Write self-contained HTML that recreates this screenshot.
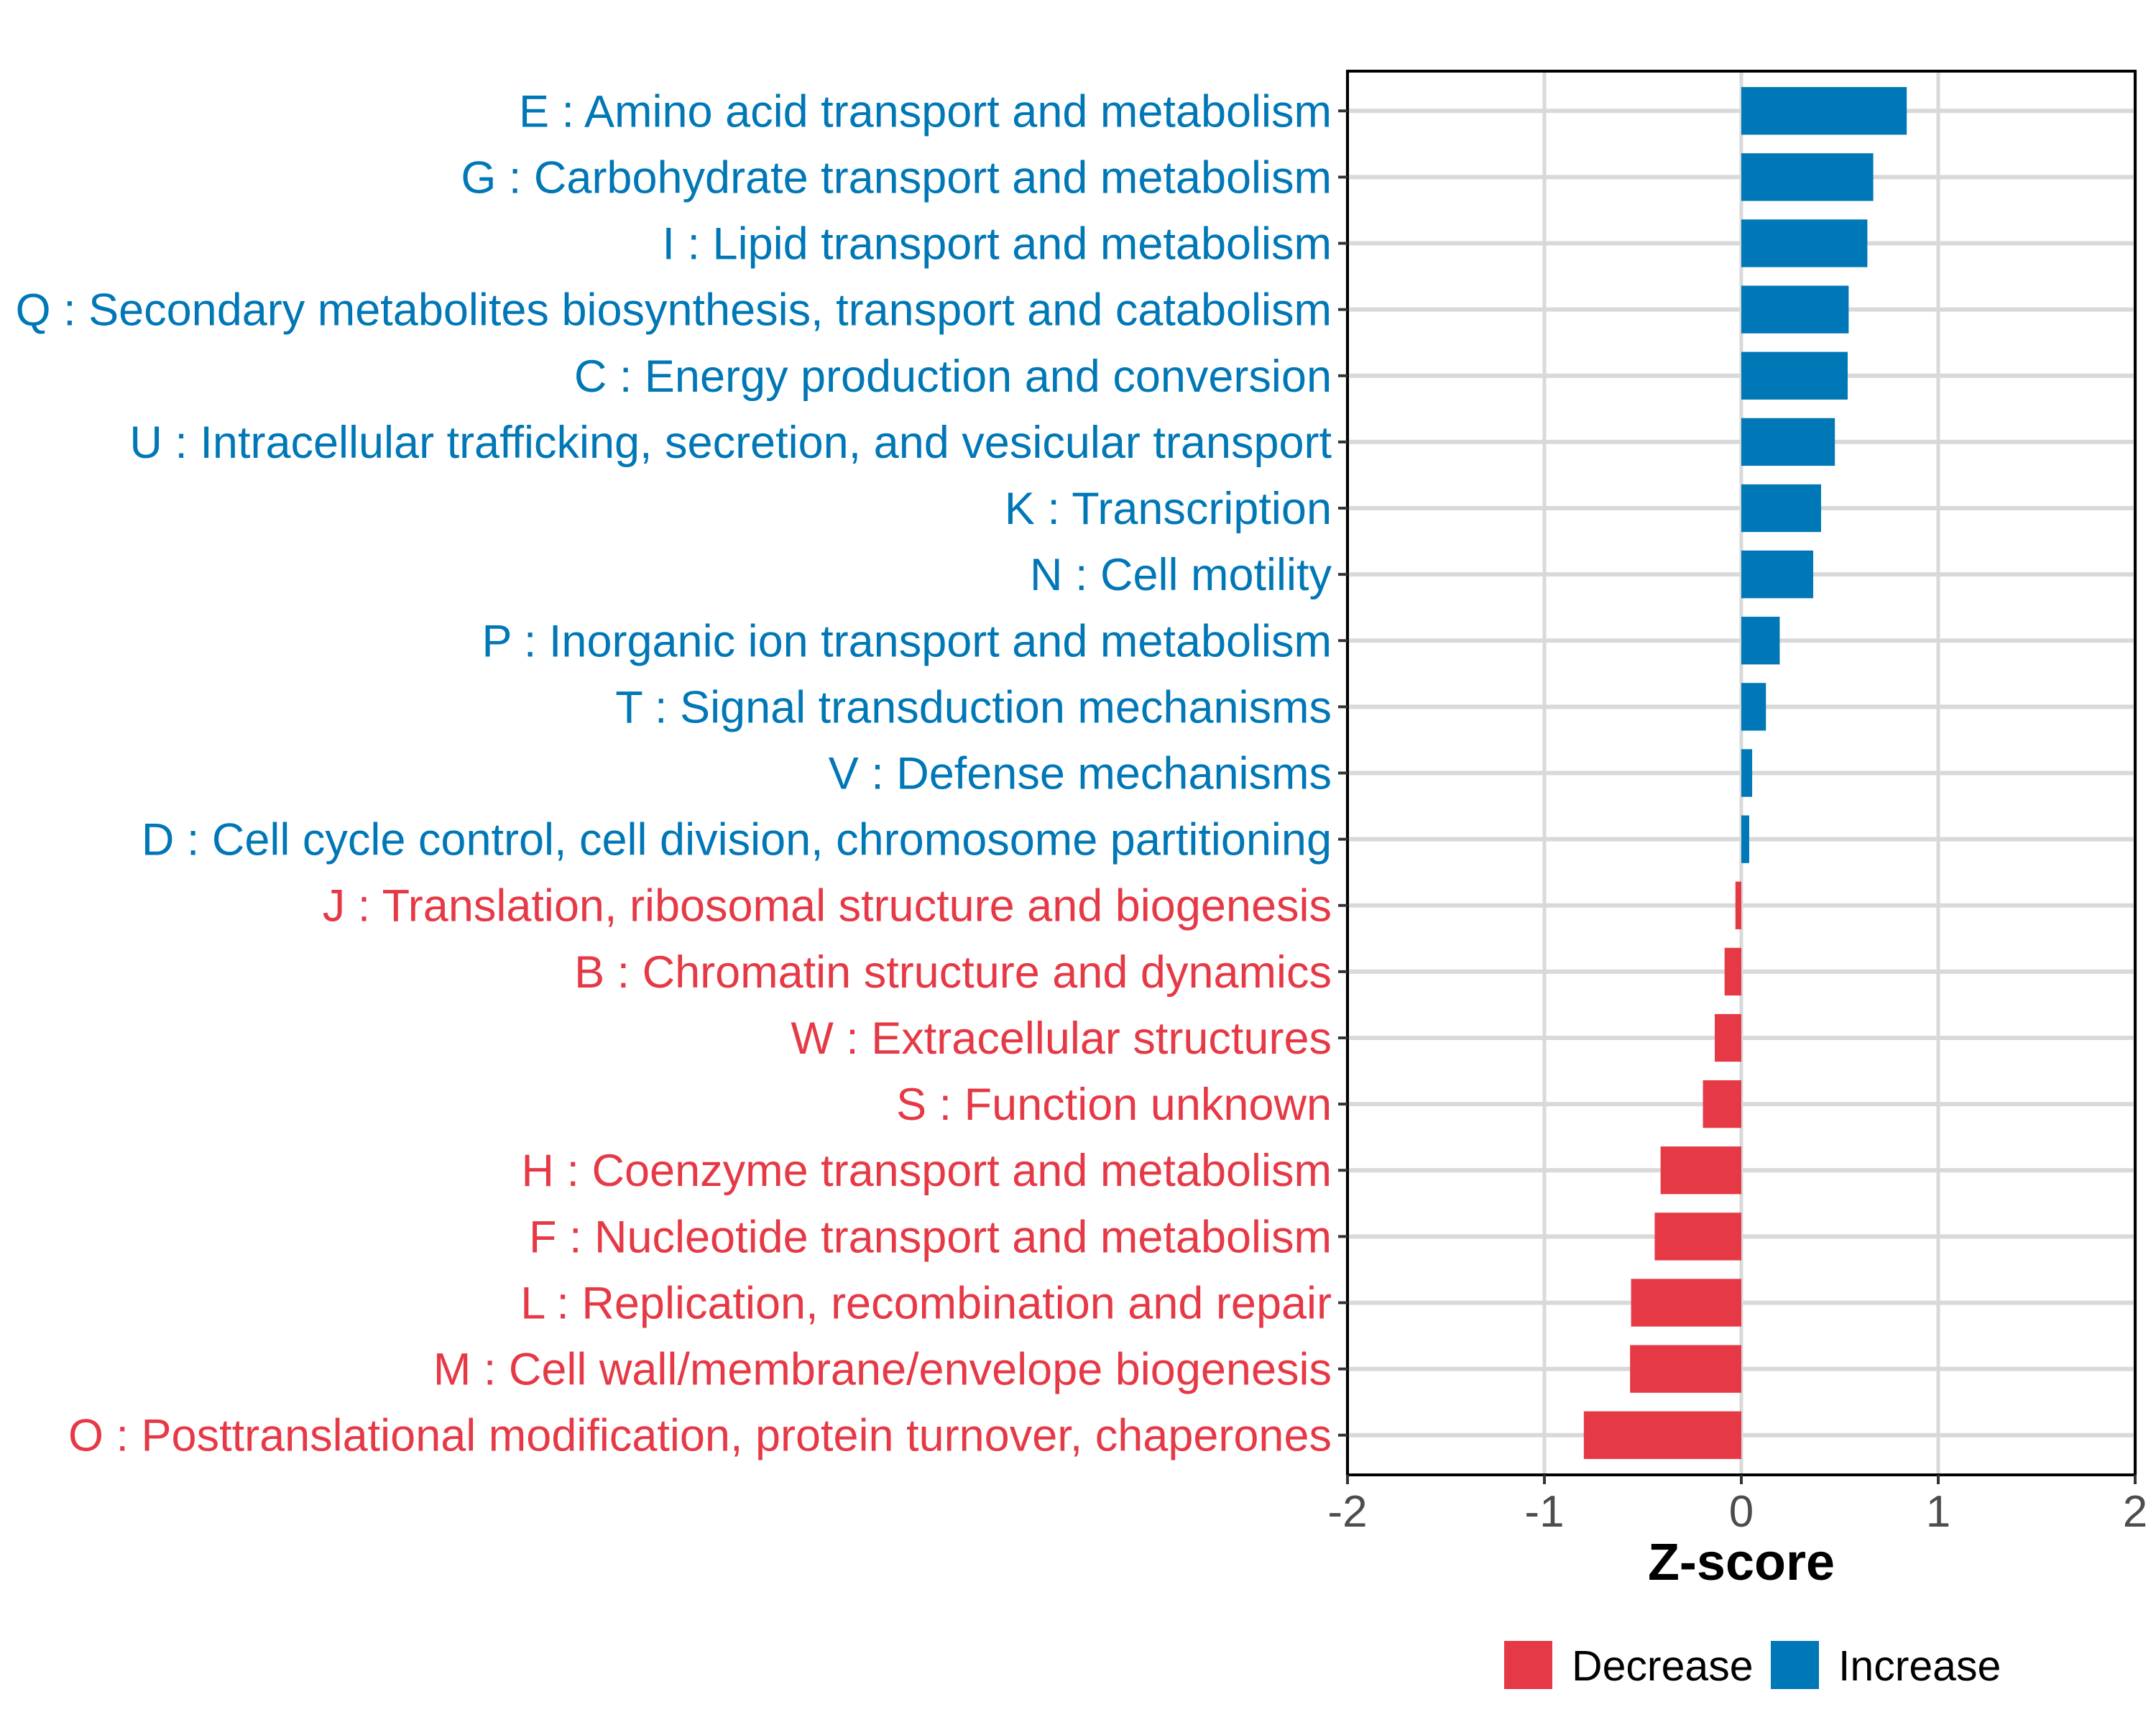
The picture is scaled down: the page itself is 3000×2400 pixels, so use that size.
<!DOCTYPE html>
<html><head><meta charset="utf-8">
<style>html,body{margin:0;padding:0;background:#fff;}svg{display:block;}</style>
</head><body>
<svg id="chart" width="3000" height="2400" viewBox="0 0 3000 2400" xmlns="http://www.w3.org/2000/svg" font-family="'Liberation Sans', sans-serif"></svg>
<script>
const categories = ["E : Amino acid transport and metabolism","G : Carbohydrate transport and metabolism","I : Lipid transport and metabolism","Q : Secondary metabolites biosynthesis, transport and catabolism","C : Energy production and conversion","U : Intracellular trafficking, secretion, and vesicular transport","K : Transcription","N : Cell motility","P : Inorganic ion transport and metabolism","T : Signal transduction mechanisms","V : Defense mechanisms","D : Cell cycle control, cell division, chromosome partitioning","J : Translation, ribosomal structure and biogenesis","B : Chromatin structure and dynamics","W : Extracellular structures","S : Function unknown","H : Coenzyme transport and metabolism","F : Nucleotide transport and metabolism","L : Replication, recombination and repair","M : Cell wall/membrane/envelope biogenesis","O : Posttranslational modification, protein turnover, chaperones"];
const zscores = [0.84,0.67,0.64,0.545,0.54,0.475,0.405,0.365,0.195,0.125,0.055,0.04,-0.03,-0.085,-0.135,-0.195,-0.41,-0.44,-0.56,-0.565,-0.80];
const xTicks = [-2,-1,0,1,2];
const xTickLabels = ["-2","-1","0","1","2"];
const legendLabels = ["Decrease","Increase"];

const NS="http://www.w3.org/2000/svg";
const svg=document.getElementById('chart');
const PL=1875,PR=2971,PT=99,PB=2052;
const BLUE="#0077b6",RED="#e63946";
const xMin=-2,xMax=2;
function xs(v){return PL+(v-xMin)/(xMax-xMin)*(PR-PL);}
const n=categories.length;
const step=(PB-PT)/(n-1+1.2);
function ys(i){return PT+0.6*step+i*step;}
function mk(tag,attrs,parent){const e=document.createElementNS(NS,tag);for(const k in attrs)e.setAttribute(k,attrs[k]);(parent||svg).appendChild(e);return e;}

xTicks.forEach((t,i)=>{
  const g=mk('line',{x1:xs(t),x2:xs(t),y1:PT,y2:PB,stroke:'#d9d9d9','stroke-width':5});
  
  
});
categories.forEach((c,i)=>{
  const g=mk('line',{x1:PL,x2:PR,y1:ys(i),y2:ys(i),stroke:'#d9d9d9','stroke-width':6});
  
  
});
const bh=step*0.72;
zscores.forEach((v,i)=>{
  const x0=xs(Math.min(0,v)),x1=xs(Math.max(0,v));
  const r=mk('rect',{x:x0,y:ys(i)-bh/2,width:Math.max(0,x1-x0),height:bh,fill:v>=0?BLUE:RED});
  
  
});
const pb=mk('rect',{x:PL,y:PT,width:PR-PL,height:PB-PT,fill:'none',stroke:'#000','stroke-width':4});


categories.forEach((c,i)=>{
  const tk=mk('line',{x1:PL-13,x2:PL,y1:ys(i),y2:ys(i),stroke:'#333','stroke-width':4});
  
  
  const t=mk('text',{x:PL-22,y:ys(i)+22,'text-anchor':'end','font-size':63,fill:zscores[i]>=0?BLUE:RED});
  t.textContent=c;
  
  
});
xTicks.forEach((v,i)=>{
  const tk=mk('line',{x1:xs(v),x2:xs(v),y1:PB,y2:PB+13,stroke:'#333','stroke-width':4});
  
  
  const t=mk('text',{x:xs(v),y:PB+72,'text-anchor':'middle','font-size':62,fill:'#4d4d4d'});
  t.textContent=xTickLabels[i];
  
  
});
const at=mk('text',{x:xs(0),y:2198,'text-anchor':'middle','font-size':72,'font-weight':'bold',fill:'#000'});
at.textContent='Z-score';


const lg=mk('g',{});


const legX=[2093,2464],legC=[RED,BLUE];
legendLabels.forEach((l,i)=>{
  const r=mk('rect',{x:legX[i],y:2283,width:67,height:67,fill:legC[i]},lg);
  
  
  const t=mk('text',{x:legX[i]+94,y:2338,'font-size':59,fill:'#000'},lg);
  t.textContent=l;
  
  
});
</script>
</body></html>
